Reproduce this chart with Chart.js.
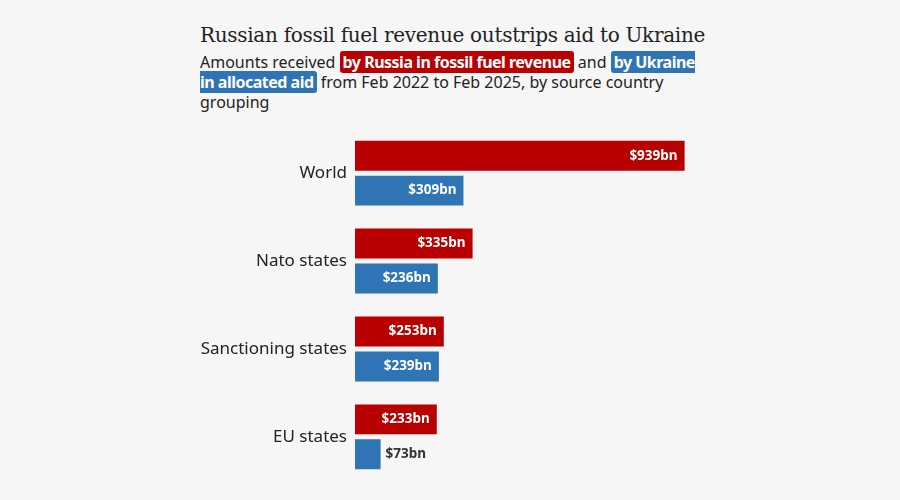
<!DOCTYPE html>
<html>
<head>
<meta charset="utf-8">
<script src="https://cdn.jsdelivr.net/npm/chart.js@4"></script>
<style>
  html, body { margin:0; padding:0; background:#f6f6f6; width:900px; height:500px; overflow:hidden; }
  #title { position:absolute; left:200px; top:23px; font-family:"DejaVu Serif", serif; font-size:20px; color:#222; letter-spacing:-0.3px; white-space:nowrap; }
  #sub { position:absolute; left:200px; top:52px; width:503px; font-family:"Noto Sans", sans-serif; font-size:16px; line-height:20px; color:#222; }
  .hl { color:#fff; font-weight:bold; padding:0 3px; border-radius:3px; letter-spacing:-0.5px; }
  .red { background:#b80000; }
  .blue { background:#2f74b5; }
  #c { position:absolute; left:0; top:111px; }
</style>
</head>
<body>
<div id="title">Russian fossil fuel revenue outstrips aid to Ukraine</div>
<div id="sub">Amounts received <span class="hl red">by Russia in fossil fuel revenue</span> and <span class="hl blue">by Ukraine in allocated aid</span> from Feb 2022 to Feb 2025, by source country grouping</div>
<canvas id="c" width="706" height="388"></canvas>
<script>
const categories = ["World", "Nato states", "Sanctioning states", "EU states"];
const russiaRevenue = [939, 335, 253, 233];
const ukraineAid = [309, 236, 239, 73];

const labelPlugin = {
  id: 'barLabels',
  afterDatasetsDraw(chart) {
    const ctx = chart.ctx;
    ctx.save();
    ctx.font = 'bold 13.5px "Noto Sans", sans-serif';
    ctx.textBaseline = 'middle';
    chart.data.datasets.forEach((ds, di) => {
      const meta = chart.getDatasetMeta(di);
      meta.data.forEach((bar, i) => {
        const txt = '$' + ds.data[i] + 'bn';
        const w = ctx.measureText(txt).width;
        const barW = bar.x - bar.base;
        if (w + 14 < barW) {
          ctx.fillStyle = '#fff';
          ctx.textAlign = 'right';
          ctx.fillText(txt, bar.x - 7, bar.y);
        } else {
          ctx.fillStyle = '#333';
          ctx.textAlign = 'left';
          ctx.fillText(txt, bar.x + 5, bar.y);
        }
      });
    });
    ctx.restore();
  }
};

new Chart(document.getElementById('c'), {
  type: 'bar',
  data: {
    labels: categories,
    datasets: [
      { label: 'by Russia in fossil fuel revenue', data: russiaRevenue, backgroundColor: '#b80000', barPercentage: 0.857, categoryPercentage: 0.795 },
      { label: 'by Ukraine in allocated aid', data: ukraineAid, backgroundColor: '#2f74b5', barPercentage: 0.857, categoryPercentage: 0.795 }
    ]
  },
  options: {
    indexAxis: 'y',
    responsive: false,
    animation: false,
    layout: { padding: 0 },
    plugins: { legend: { display: false }, tooltip: { enabled: false } },
    scales: {
      x: { display: false, min: 0, max: 1000 },
      y: {
        grid: { display: false, drawTicks: false },
        border: { display: false },
        ticks: { color: '#222', font: { family: '"Noto Sans", sans-serif', size: 17 }, padding: 8 },
        afterFit(scale) { scale.width = 355; }
      }
    }
  },
  plugins: [labelPlugin]
});
</script>
</body>
</html>
